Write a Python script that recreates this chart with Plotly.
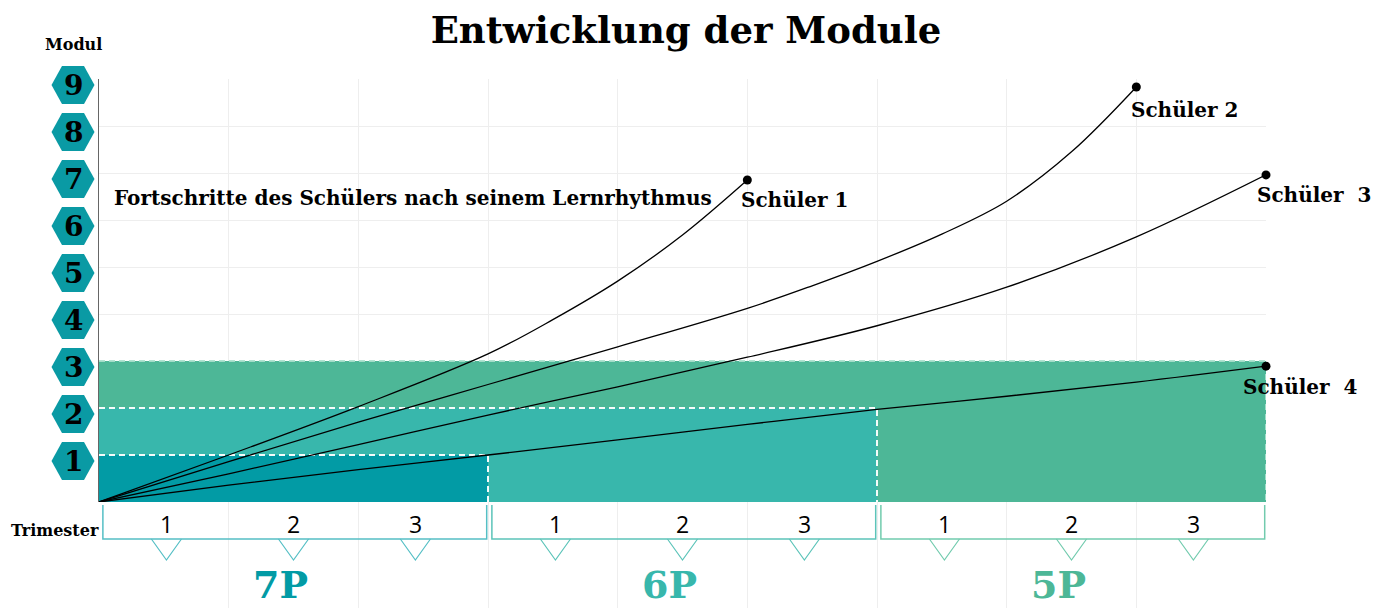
import plotly.graph_objects as go

# ---------------- data ----------------
modules = [1, 2, 3, 4, 5, 6, 7, 8, 9]
phases = ["7P", "6P", "5P"]
phase_starts = [0, 3, 6]
phase_ends = [3, 6, 9]
phase_levels = [1, 2, 3]          # module reached at end of each phase
trimesters = ["1", "2", "3"]
trimester_offsets = [0.52, 1.5, 2.44]

students = ["Schüler 1", "Schüler 2", "Schüler  3", "Schüler  4"]
s1_x = [0, 1, 2, 3, 3.5, 4, 4.5, 5]
s1_y = [0, 1.0, 2.03, 3.15, 3.88, 4.7, 5.68, 6.85]
s2_x = [0, 1, 2, 3, 4, 5, 5.5, 6, 6.5, 7, 7.5, 8]
s2_y = [0, 0.86, 1.7, 2.5, 3.3, 4.12, 4.6, 5.12, 5.7, 6.4, 7.45, 8.83]
s3_x = [0, 1, 2, 3, 4, 5, 6, 7, 8, 9]
s3_y = [0, 0.6, 1.22, 1.85, 2.45, 3.08, 3.75, 4.57, 5.64, 6.96]
s4_x = [0, 1, 2, 3, 4, 5, 6, 7, 8, 9]
s4_y = [0, 0.36, 0.69, 1.0, 1.32, 1.65, 1.97, 2.25, 2.55, 2.89]
student_x = [s1_x, s2_x, s3_x, s4_x]
student_y = [s1_y, s2_y, s3_y, s4_y]

# ---------------- style ----------------
phase_colors = ["#029BA5", "#38B7AC", "#4DB797"]
line_colors = ["#55BFC5", "#5CC4B9", "#72CBAE"]
SLAB = "DejaVu Serif"
SANS = "Open Sans"
label_shifts = [(-8, -20), (-7, -23), (-11, -20), (-25, -21)]

# page body has an 8px margin -> compensate
W, H = 1371, 600
ML, MR, MT, MB = 91, 113, 71, 0
PW = W - ML - MR   # 1167
PH = H - MT - MB   # 529
LOWER = 106        # pixels for the trimester strip
Y_DOM0 = LOWER / PH
Y_MAX = 9

fig = go.Figure()

# filled module areas (largest first)
for i in reversed(range(3)):
    xe = phase_ends[i]
    lv = phase_levels[i]
    fig.add_trace(go.Scatter(
        x=[0, xe, xe, 0, 0], y=[0, 0, lv, lv, 0], fill="toself",
        fillcolor=phase_colors[i], line=dict(width=0), mode="lines",
        hoverinfo="skip", showlegend=False))

# dashed borders
for i in range(3):
    xe = phase_ends[i]
    lv = phase_levels[i]
    col = "rgba(255,255,255,0.95)" if i < 2 else "rgba(170,225,205,0.9)"
    fig.add_trace(go.Scatter(
        x=[0, xe, xe], y=[lv, lv, 0], mode="lines",
        line=dict(color=col, width=2, dash="6px,4px"),
        hoverinfo="skip", showlegend=False))

# student curves
for name, xs, ys, (dx, dy) in zip(students, student_x, student_y, label_shifts):
    fig.add_trace(go.Scatter(
        x=xs, y=ys, mode="lines",
        line=dict(color="black", width=1.3, shape="spline", smoothing=1.0),
        hoverinfo="skip", showlegend=False))
    fig.add_trace(go.Scatter(
        x=[xs[-1]], y=[ys[-1]], mode="markers", marker=dict(color="black", size=9),
        cliponaxis=False, hoverinfo="skip", showlegend=False))
    fig.add_annotation(x=xs[-1], y=ys[-1], text=name.replace("  ", " \u00a0"), showarrow=False,
                       xanchor="left", yanchor="middle", xshift=dx, yshift=dy,
                       font=dict(family=SLAB, size=20, color="black", weight=700))

# hexagon module labels (left of the axis)
shapes = []
hex_x = -26 / PW
hex_path = "M-21.5,0 L-11,19 L11,19 L21.5,0 L11,-19 L-11,-19 Z"
for m in modules:
    py = Y_DOM0 + (m - 0.13) / Y_MAX * (1 - Y_DOM0)
    shapes.append(dict(type="path", xref="paper", yref="paper",
                       xsizemode="pixel", ysizemode="pixel",
                       xanchor=hex_x, yanchor=py, path=hex_path,
                       fillcolor="#0A9AA4", line=dict(width=0), layer="above"))
    fig.add_annotation(x=hex_x, y=py, xref="paper", yref="paper", text=str(m),
                       showarrow=False, xanchor="center", yanchor="middle",
                       font=dict(family=SLAB, size=28, color="black", weight=700))

# trimester boxes / triangles / numbers (lower axis y2: pixels below baseline)
for p in range(3):
    s, e = phase_starts[p], phase_ends[p]
    c = line_colors[p]
    x0, x1 = s + 0.03, e - 0.01
    shapes.append(dict(type="path", xref="x", yref="y2",
                       path=f"M{x0},3 L{x0},37 L{x1},37 L{x1},3",
                       line=dict(color=c, width=1.5)))
    for t, off in zip(trimesters, trimester_offsets):
        cx = s + off
        shapes.append(dict(type="path", xref="x", yref="y2",
                           path=f"M{cx-0.116},37 L{cx},58 L{cx+0.116},37",
                           line=dict(color=c, width=1.2)))
        fig.add_annotation(x=cx, y=22, xref="x", yref="y2", text=t, showarrow=False,
                           font=dict(family=SANS, size=23, color="black"))
    fig.add_annotation(x=s + 1.4, y=82, xref="x", yref="y2", text=phases[p], showarrow=False,
                       font=dict(family=SLAB, size=38, color=phase_colors[p], weight=700))

fig.add_trace(go.Scatter(x=[0], y=[0], xaxis="x", yaxis="y2", mode="markers",
                         marker=dict(opacity=0), hoverinfo="skip", showlegend=False))

# texts
fig.add_annotation(x=0.1, y=6.47, text="Fortschritte des Schülers nach seinem Lernrhythmus",
                   showarrow=False, xanchor="left", yanchor="middle",
                   font=dict(family=SLAB, size=20, color="black", weight=700))
fig.add_annotation(x=-26 / PW, y=(H - 36) / PH, xref="paper", yref="paper", text="Modul",
                   showarrow=False, xanchor="center", yanchor="middle",
                   font=dict(family=SLAB, size=16, color="black", weight=700))
fig.add_annotation(x=-44 / PW, y=(H - 522) / PH, xref="paper", yref="paper", text="Trimester",
                   showarrow=False, xanchor="center", yanchor="middle",
                   font=dict(family=SLAB, size=16, color="black", weight=700))

fig.update_layout(
    width=W, height=H,
    margin=dict(l=ML, r=MR, t=MT, b=MB, autoexpand=False),
    paper_bgcolor="white", plot_bgcolor="white",
    title=dict(text="Entwicklung der Module", x=678 / W, xanchor="center",
               y=1 - 22 / H, yanchor="middle",
               font=dict(family=SLAB, size=37, color="black", weight=700)),
    shapes=shapes,
    xaxis=dict(range=[0, 9], dtick=1, showgrid=True, gridcolor="#EEEEEE", gridwidth=1,
               showticklabels=False, zeroline=False, showline=False, anchor="y", fixedrange=True),
    yaxis=dict(range=[0, Y_MAX], dtick=1, domain=[Y_DOM0, 1], showgrid=True, gridcolor="#EEEEEE",
               showticklabels=False, zeroline=False, showline=True, linecolor="#666666",
               linewidth=1, fixedrange=True),
    yaxis2=dict(range=[LOWER, 0], domain=[0, Y_DOM0], anchor="x", showgrid=False,
                showticklabels=False, zeroline=False, showline=False, fixedrange=True),
    showlegend=False,
)

fig.write_html("out.html")
